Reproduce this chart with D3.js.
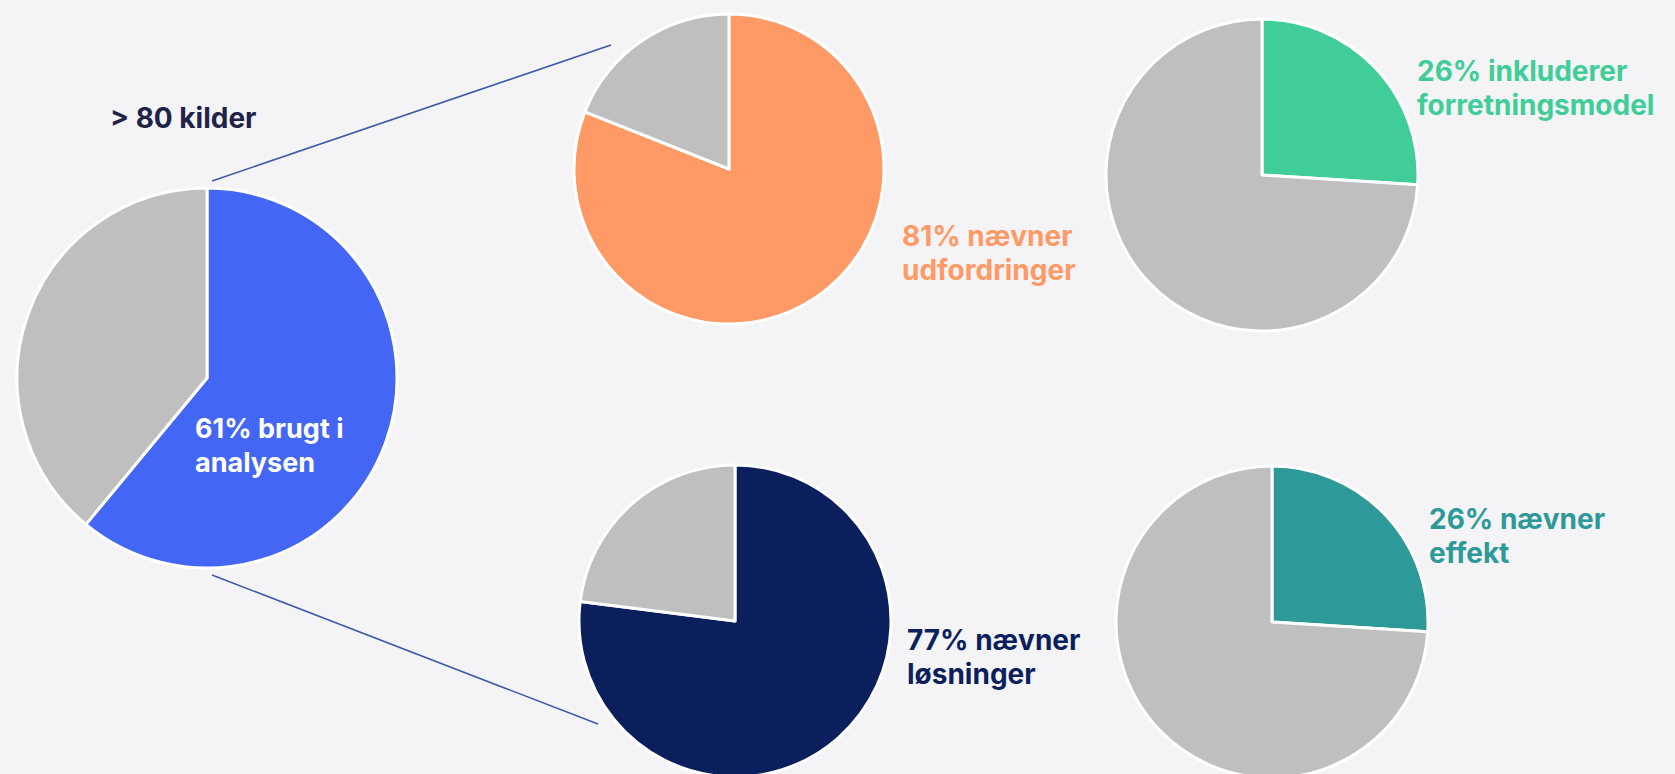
<!DOCTYPE html>
<html>
<head>
<meta charset="utf-8">
<script src="https://cdn.jsdelivr.net/npm/d3@7"></script>
<style>
  html, body { margin: 0; padding: 0; background: #f4f3f6; }
  svg { display: block; }
</style>
</head>
<body>
<div id="chart"></div>
<script>
// Shares (percent) for each pie
const pieKeys = ['analysen', 'udfordringer', 'forretningsmodel', 'losninger', 'effekt'];
const pieShares = [61, 81, 26, 77, 26];
const pieLabels = [
  ['61% brugt i', 'analysen'],
  ['81% nævner', 'udfordringer'],
  ['26% inkluderer', 'forretningsmodel'],
  ['77% nævner', 'løsninger'],
  ['26% nævner', 'effekt']
];
const sourceLabel = '> 80 kilder';

const width = 1675, height = 774;

// colours
const restColor = '#bfbfbf';
const sliceColors = ['#4466f5', '#ff9966', '#40cd97', '#0a1f5c', '#2e9999'];
const labelColors = ['#ffffff', '#ff9966', '#40cd97', '#0a1f5c', '#2e9999'];
const lineColor = '#3d5aa8';

// layout: centre, radius, label anchor and label size for every pie
const layout = [
  { cx: 207, cy: 378, r: 190, lx: 195, ly: 438, fs: 27 },
  { cx: 729, cy: 169, r: 155, lx: 902, ly: 246, fs: 28 },
  { cx: 1262, cy: 175, r: 156, lx: 1417, ly: 81, fs: 28 },
  { cx: 735, cy: 621, r: 156, lx: 907, ly: 650, fs: 28 },
  { cx: 1272, cy: 622, r: 156, lx: 1429, ly: 529, fs: 28 }
];
const lineGap = 34;
const fontFamily = 'Inter, "Open Sans", sans-serif';

const svg = d3.select('#chart')
  .append('svg')
  .attr('width', width)
  .attr('height', height)
  .style('background-color', '#f4f3f6');

// connector lines from the big pie to the two middle pies
const connectors = [
  [[212, 181], [611, 45]],
  [[212, 575], [598, 724]]
];
svg.selectAll('.connector')
  .data(connectors)
  .join('line')
  .attr('class', 'connector')
  .attr('x1', d => d[0][0]).attr('y1', d => d[0][1])
  .attr('x2', d => d[1][0]).attr('y2', d => d[1][1])
  .attr('stroke', lineColor)
  .attr('stroke-width', 1.6);

const pie = d3.pie().sort(null).value(d => d.value);

pieKeys.forEach((key, i) => {
  const L = layout[i];
  const arc = d3.arc().innerRadius(0).outerRadius(L.r);
  const slices = pie([
    { name: key, value: pieShares[i], color: sliceColors[i] },
    { name: 'rest', value: 100 - pieShares[i], color: restColor }
  ]);

  const g = svg.append('g')
    .attr('class', 'pie pie-' + key)
    .attr('transform', `translate(${L.cx},${L.cy})`);

  g.selectAll('path')
    .data(slices)
    .join('path')
    .attr('d', arc)
    .attr('fill', d => d.data.color)
    .attr('stroke', '#ffffff')
    .attr('stroke-width', 3)
    .attr('stroke-linejoin', 'round');

  // label (two lines)
  const t = svg.append('text')
    .attr('class', 'pie-label')
    .attr('x', L.lx)
    .attr('y', L.ly)
    .style('fill', labelColors[i])
    .style('font-family', fontFamily)
    .style('font-weight', 700)
    .style('font-size', L.fs + 'px');
  pieLabels[i].forEach((line, j) => {
    t.append('tspan')
      .attr('x', L.lx)
      .attr('dy', j === 0 ? 0 : lineGap)
      .text(line);
  });
});

// heading above the big pie
svg.append('text')
  .attr('x', 110)
  .attr('y', 128)
  .style('fill', '#1f2347')
  .style('font-family', fontFamily)
  .style('font-weight', 700)
  .style('font-size', '28px')
  .text(sourceLabel);
</script>
</body>
</html>
